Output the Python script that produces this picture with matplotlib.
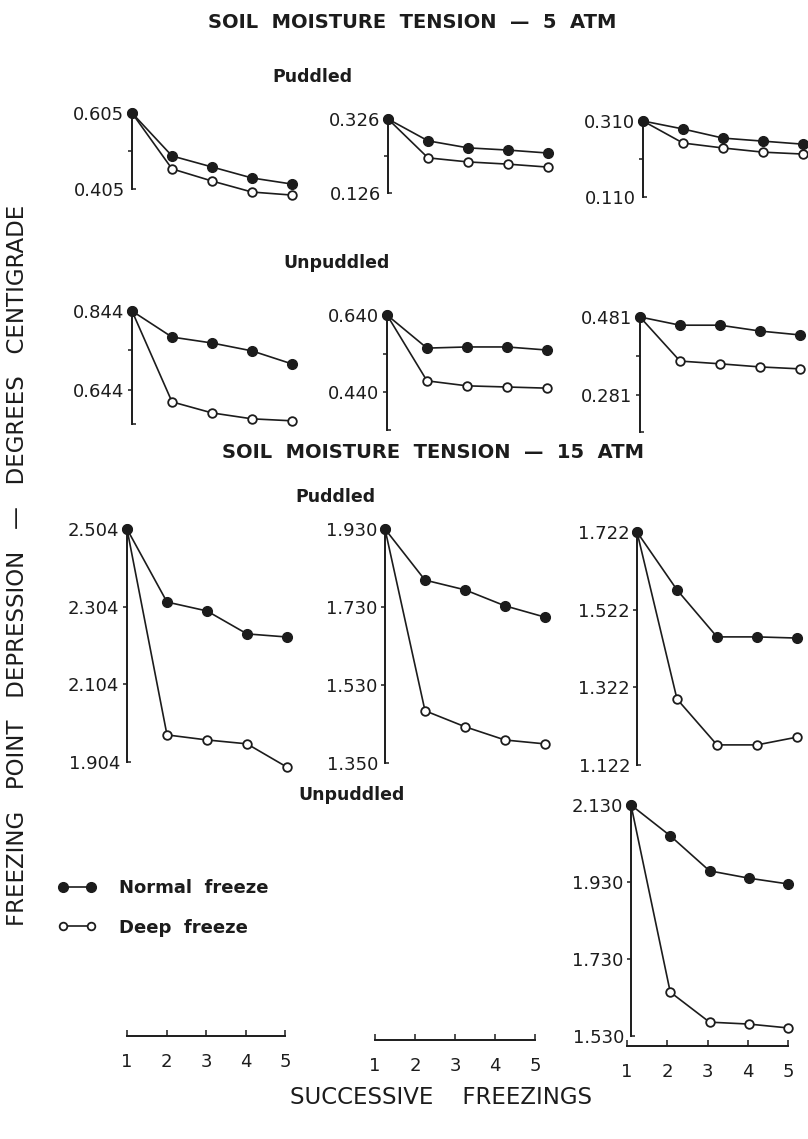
import matplotlib
matplotlib.use("Agg")
import matplotlib.pyplot as plt
from matplotlib.lines import Line2D

# successive freezings
freezings = [1, 2, 3, 4, 5]

# 5 atm, puddled (three soils)
pud5_normal = [[0.605, 0.492, 0.463, 0.434, 0.418],
               [0.326, 0.267, 0.248, 0.242, 0.234],
               [0.310, 0.289, 0.265, 0.257, 0.249]]
pud5_deep = [[0.605, 0.458, 0.426, 0.397, 0.389],
             [0.326, 0.221, 0.210, 0.204, 0.196],
             [0.310, 0.252, 0.239, 0.228, 0.223]]
pud5_ticks = [[0.605, 0.505, 0.405], [0.326, 0.226, 0.126], [0.310, 0.210, 0.110]]
pud5_labels = [["0.605", "", "0.405"], ["0.326", "", "0.126"], ["0.310", "", "0.110"]]

# 5 atm, unpuddled
unp5_normal = [[0.844, 0.778, 0.763, 0.743, 0.710],
               [0.640, 0.554, 0.557, 0.557, 0.549],
               [0.481, 0.460, 0.460, 0.445, 0.435]]
unp5_deep = [[0.844, 0.614, 0.586, 0.571, 0.566],
             [0.640, 0.469, 0.456, 0.453, 0.450],
             [0.481, 0.368, 0.361, 0.353, 0.348]]
unp5_ticks = [[0.844, 0.744, 0.644], [0.640, 0.540, 0.440], [0.481, 0.381, 0.281]]
unp5_labels = [["0.844", "", "0.644"], ["0.640", "", "0.440"], ["0.481", "", "0.281"]]
unp5_bottom = [0.558, 0.341, 0.186]

# 15 atm, puddled
pud15_normal = [[2.504, 2.316, 2.293, 2.234, 2.226],
                [1.930, 1.799, 1.774, 1.733, 1.704],
                [1.722, 1.573, 1.452, 1.452, 1.449]]
pud15_deep = [[2.504, 1.974, 1.961, 1.951, 1.891],
              [1.930, 1.464, 1.423, 1.389, 1.379],
              [1.722, 1.292, 1.174, 1.174, 1.194]]
pud15_ticks = [[2.504, 2.304, 2.104, 1.904], [1.930, 1.730, 1.530, 1.330], [1.722, 1.522, 1.322, 1.122]]
pud15_labels = [["2.504", "2.304", "2.104", "1.904"], ["1.930", "1.730", "1.530", "1.350"],
                ["1.722", "1.522", "1.322", "1.122"]]

# 15 atm, unpuddled (third soil only)
unp15_normal = [2.130, 2.050, 1.959, 1.940, 1.925]
unp15_deep = [2.130, 1.644, 1.566, 1.561, 1.551]
unp15_ticks = [2.130, 1.930, 1.730, 1.530]
unp15_labels = ["2.130", "1.930", "1.730", "1.530"]

W, H = 808, 1139
ink = "#1c1c1c"
fig = plt.figure(figsize=(W / 100, H / 100), dpi=100)
fig.patch.set_facecolor("white")


def fx(x):
    return x / W


def fy(y):
    return 1 - y / H


def panel(x0, ytop, pp, bottom, ticks, labels, normal, deep, span=160):
    top = ticks[0]
    h = (top - bottom) / 0.2 * pp
    ax = fig.add_axes([fx(x0), fy(ytop + h), span / W, h / H])
    ax.set_xlim(1, 5)
    ax.set_ylim(bottom, top)
    ax.patch.set_visible(False)
    for s in ["top", "right", "bottom"]:
        ax.spines[s].set_visible(False)
    ax.spines["left"].set_linewidth(1.4)
    ax.spines["left"].set_color(ink)
    ax.set_xticks([])
    if abs(ticks[-1] - bottom) < 1e-9:
        ax.set_yticks(ticks[:-1], labels[:-1])
        ax.set_yticks([bottom], [labels[-1]], minor=True)
    else:
        ax.set_yticks(ticks, labels)
        ax.set_yticks([bottom], [""], minor=True)
    ax.tick_params(axis="y", which="major", direction="out", length=3, width=1.1,
                   pad=2.5, labelsize=13, colors=ink)
    ax.tick_params(axis="y", which="minor", direction="in", length=3, width=1.1,
                   pad=5, labelsize=13, colors=ink)
    ax.plot(freezings, deep, "-o", color=ink, lw=1.2, ms=6.2, mfc="white", mec=ink,
            mew=1.3, clip_on=False, zorder=3)
    ax.plot(freezings, normal, "-o", color=ink, lw=1.2, ms=7, mfc=ink, mec=ink,
            clip_on=False, zorder=4)
    return ax


def xaxis(x0, x1, y):
    ax = fig.add_axes([fx(x0), fy(y), (x1 - x0) / W, 0.002])
    ax.set_xlim(1, 5)
    ax.patch.set_visible(False)
    for s in ["top", "right", "left"]:
        ax.spines[s].set_visible(False)
    ax.spines["bottom"].set_linewidth(1.4)
    ax.spines["bottom"].set_color(ink)
    ax.set_yticks([])
    ax.set_xticks(freezings, [str(f) for f in freezings])
    ax.tick_params(axis="x", direction="in", length=4, width=1.1, pad=12,
                   labelsize=13, colors=ink)


# panel placement in pixels: (axis x, top y, px per 0.2 units)
row1 = [(132, 113, 76), (388, 119, 74), (643, 121, 76)]
row2 = [(132, 311, 79), (387, 315, 77), (640, 317, 78)]
row3 = [(127, 529, 77.7), (385, 529, 78), (637, 532, 77.7)]

for i in range(3):
    x0, yt, pp = row1[i]
    panel(x0, yt, pp, pud5_ticks[i][-1], pud5_ticks[i], pud5_labels[i],
          pud5_normal[i], pud5_deep[i])
    x0, yt, pp = row2[i]
    panel(x0, yt, pp, unp5_bottom[i], unp5_ticks[i], unp5_labels[i],
          unp5_normal[i], unp5_deep[i])
    x0, yt, pp = row3[i]
    panel(x0, yt, pp, pud15_ticks[i][-1], pud15_ticks[i], pud15_labels[i],
          pud15_normal[i], pud15_deep[i])

panel(631, 805, 77, unp15_ticks[-1], unp15_ticks, unp15_labels,
      unp15_normal, unp15_deep, span=157)

xaxis(127, 285, 1036)
xaxis(375, 535, 1040)
xaxis(627, 788, 1046)

# headings
bold = dict(fontsize=14, fontweight="bold", color=ink, ha="center", va="center")
fig.text(fx(412), fy(22), "SOIL  MOISTURE  TENSION  \u2014  5  ATM", **bold)
fig.text(fx(433), fy(452), "SOIL  MOISTURE  TENSION  \u2014  15  ATM", **bold)
sub = dict(fontsize=12.5, fontweight="bold", color=ink, ha="center", va="center")
fig.text(fx(312), fy(77), "Puddled", **sub)
fig.text(fx(337), fy(263), "Unpuddled", **sub)
fig.text(fx(335), fy(497), "Puddled", **sub)
fig.text(fx(352), fy(795), "Unpuddled", **sub)

fig.text(fx(18), fy(565), "FREEZING   POINT   DEPRESSION   \u2014   DEGREES   CENTIGRADE",
         rotation=90, fontsize=16.5, color=ink, ha="center", va="center")
fig.text(fx(441), fy(1098), "SUCCESSIVE    FREEZINGS", fontsize=16.5, color=ink,
         ha="center", va="center")

# legend
h_norm = Line2D([], [], color=ink, lw=1.2, marker="o", ms=7, mfc=ink, mec=ink)
h_deep = Line2D([], [], color=ink, lw=1.2, marker="o", ms=5.5, mfc="white", mec=ink, mew=1.3)
fig.legend([h_norm, h_deep], ["Normal  freeze", "Deep  freeze"], loc="upper left",
           bbox_to_anchor=(fx(58), fy(879)), frameon=False, numpoints=2,
           handlelength=2.1, handletextpad=1.3, labelspacing=1.2, borderpad=0,
           borderaxespad=0, prop=dict(size=13, weight="bold"), labelcolor=ink)

fig.savefig("out.png", dpi=100, facecolor="white")
